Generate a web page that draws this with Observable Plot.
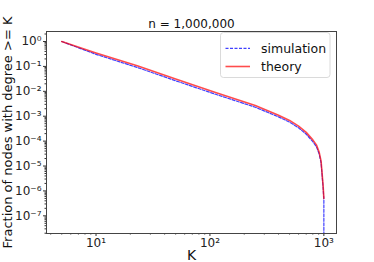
<!DOCTYPE html>
<html>
<head>
<meta charset="utf-8">
<script src="https://cdn.jsdelivr.net/npm/d3@7"></script>
<script src="https://cdn.jsdelivr.net/npm/@observablehq/plot@0.6"></script>
<style>
  html, body { margin: 0; padding: 0; background: white; }
  #chart { width: 374px; height: 262px; }
</style>
</head>
<body>
<div id="chart"></div>
<script>
// Theory curve
const theoryK = [5, 10, 23, 50, 112, 250, 400, 500, 600, 700, 800, 860, 910, 945, 965, 985, 1000];
const theory = [1, 0.347, 0.106, 0.0309, 0.00891, 0.00269, 0.00110, 6.76e-4, 3.98e-4, 2.24e-4, 1.12e-4, 7.08e-5, 3.55e-5, 1.58e-5, 5.0e-6, 1.58e-6, 5.0e-7];
// Simulation curve (last value drops below the axis)
const simK = [5, 10, 23, 50, 112, 250, 400, 500, 600, 700, 800, 860, 910, 945, 965, 985, 1000, 1000];
const simulation = [1, 0.305, 0.091, 0.0265, 0.0076, 0.0023, 0.00094, 5.8e-4, 3.4e-4, 1.9e-4, 9.5e-5, 6.0e-5, 3.0e-5, 1.35e-5, 4.3e-6, 1.35e-6, 4.4e-7, 1e-12];

const xTicks = [10, 100, 1000];
const xTickLabels = ["10¹", "10²", "10³"];
const yTicks = [1, 1e-1, 1e-2, 1e-3, 1e-4, 1e-5, 1e-6, 1e-7];
const yTickLabels = ["10⁰", "10⁻¹", "10⁻²", "10⁻³", "10⁻⁴", "10⁻⁵", "10⁻⁶", "10⁻⁷"];
const title = "n = 1,000,000";
const xLabel = "K";
const yLabel = "Fraction of nodes with degree >= K";
const seriesNames = ["simulation", "theory"];

const theoryData = theoryK.map((k, i) => ({k, v: theory[i]}));
const simData = simK.map((k, i) => ({k, v: simulation[i]}));

const xMinor = [];
for (const d of [1, 10, 100]) for (let m = 2; m <= 9; m++) { const v = m * d; if (v > 3.675 && v < 1291) xMinor.push(v); }
const yMinor = [];
for (let e = -8; e <= 0; e++) for (let m = 2; m <= 9; m++) { const v = m * 10 ** e; if (v > 10 ** -7.71 && v < 10 ** 0.402) yMinor.push(v); }

const plot = Plot.plot({
  width: 374,
  height: 262,
  marginLeft: 46,
  marginRight: 38,
  marginTop: 31,
  marginBottom: 29,
  style: { fontFamily: "DejaVu Sans", fontSize: "12px", background: "white", color: "#222" },
  x: { type: "log", domain: [3.675, 1291] },
  y: { type: "log", domain: [10 ** -7.71, 10 ** 0.402] },
  marks: [
    Plot.axisX(xMinor, { tickSize: 1.5, tickFormat: () => "", stroke: "#333", label: null }),
    Plot.axisY(yMinor, { tickSize: 1.5, tickFormat: () => "", stroke: "#333", label: null }),
    Plot.axisX(xTicks, { tickSize: 3, tickPadding: 2, tickFormat: (d) => xTickLabels[xTicks.indexOf(d)], fontSize: 12, label: null, stroke: "#333" }),
    Plot.axisY(yTicks, { tickSize: 3, tickPadding: 2, tickFormat: (d) => yTickLabels[yTicks.indexOf(d)], fontSize: 12, label: null, stroke: "#333" }),
    Plot.line(simData, { x: "k", y: "v", stroke: "blue", strokeOpacity: 0.75, strokeWidth: 1.2, strokeDasharray: "3,1.5", clip: true }),
    Plot.line(theoryData, { x: "k", y: "v", stroke: "red", strokeOpacity: 0.7, strokeWidth: 1.6, clip: true }),
    Plot.frame({ stroke: "#444", strokeWidth: 1 }),
    Plot.text([title], { text: (d) => d, frameAnchor: "top", lineAnchor: "middle", dy: -7, fontSize: 12, fill: "#111" }),
    Plot.text([xLabel], { text: (d) => d, frameAnchor: "bottom", lineAnchor: "middle", dy: 22.5, fontSize: 14, fill: "#111" }),
    Plot.text([yLabel], { text: (d) => d, frameAnchor: "left", textAnchor: "middle", lineAnchor: "middle", rotate: -90, dx: -38.5, fontSize: 13, fill: "#111" })
  ]
});

// Legend (drawn inside the frame, top-right)
const svg = d3.select(plot);
const lg = svg.append("g").attr("font-family", "DejaVu Sans").attr("font-size", 12.5).attr("text-anchor", "start");
lg.append("rect").attr("x", 220.5).attr("y", 32.5).attr("width", 109.5).attr("height", 45)
  .attr("rx", 3).attr("fill", "white").attr("fill-opacity", 0.8).attr("stroke", "#d0d0d0").attr("stroke-width", 0.8);
lg.append("line").attr("x1", 225.5).attr("x2", 250).attr("y1", 48.3).attr("y2", 48.3)
  .attr("stroke", "blue").attr("stroke-opacity", 0.75).attr("stroke-width", 1.2).attr("stroke-dasharray", "3,1.5");
lg.append("line").attr("x1", 225.5).attr("x2", 250).attr("y1", 66.5).attr("y2", 66.5)
  .attr("stroke", "red").attr("stroke-opacity", 0.7).attr("stroke-width", 1.6);
lg.append("text").attr("x", 261).attr("y", 52.8).attr("fill", "#111").text(seriesNames[0]);
lg.append("text").attr("x", 261).attr("y", 71).attr("fill", "#111").text(seriesNames[1]);

document.getElementById("chart").appendChild(plot);
</script>
</body>
</html>
